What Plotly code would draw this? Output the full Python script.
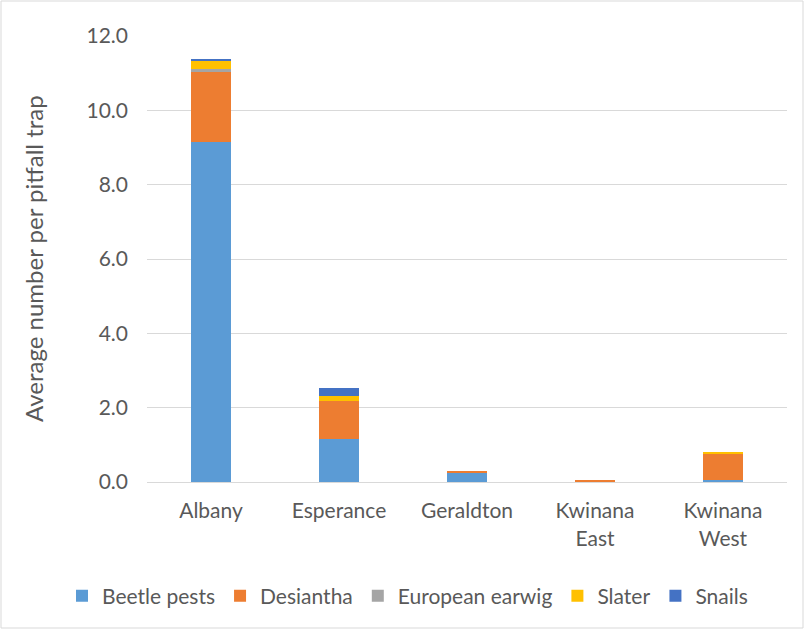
import plotly.graph_objects as go

categories = ["Albany", "Esperance", "Geraldton", "Kwinana<br>East", "Kwinana<br>West"]
beetle_pests = [9.15, 1.16, 0.23, 0.0, 0.05]
desiantha = [1.89, 1.03, 0.06, 0.06, 0.73]
european_earwig = [0.06, 0.0, 0.0, 0.0, 0.0]
slater = [0.23, 0.13, 0.0, 0.0, 0.02]
snails = [0.04, 0.21, 0.0, 0.0, 0.0]

series = [
    ("Beetle pests", beetle_pests, "#5B9BD5"),
    ("Desiantha", desiantha, "#ED7D31"),
    ("European earwig", european_earwig, "#A5A5A5"),
    ("Slater", slater, "#FFC000"),
    ("Snails", snails, "#4472C4"),
]

fig = go.Figure()
for name, vals, color in series:
    fig.add_trace(go.Bar(x=categories, y=vals, name=name, marker=dict(color=color, line=dict(width=0))))

font = "Lato, Open Sans, sans-serif"
fig.update_layout(
    barmode="stack",
    bargap=0.69,
    width=804, height=629,
    margin=dict(l=147, r=17, t=36, b=147, autoexpand=False),
    paper_bgcolor="white", plot_bgcolor="white",
    font=dict(family=font, color="#595959", size=21),
    legend=dict(orientation="h", x=(62 - 147) / 640, xanchor="left", y=-114/446, yanchor="middle",
                font=dict(size=21, color="#595959"), traceorder="normal", bgcolor="rgba(0,0,0,0)",
                itemwidth=30, tracegroupgap=0),
    xaxis=dict(showgrid=False, showline=True, linecolor="#D9D9D9", linewidth=1,
               tickfont=dict(size=21, color="#595959"), ticks="", automargin=False,
               ticklabelstandoff=10),
    yaxis=dict(range=[0, 12], dtick=2, tickformat=".1f", showgrid=True, gridcolor="#D9D9D9",
               gridwidth=1, zeroline=False, showline=False, automargin=False,
               tickfont=dict(size=21, color="#595959"), ticklabelstandoff=18),
)
fig.add_annotation(text="Average number per pitfall trap", xref="paper", yref="paper",
                   x=-114/640, y=0.5, xanchor="center", yanchor="middle", textangle=-90,
                   showarrow=False, font=dict(size=24, color="#595959", family=font))
fig.add_shape(type="rect", xref="paper", yref="paper", x0=-146/640, x1=1+16/640, y0=-146/446, y1=1+35/446,
              line=dict(color="#D9D9D9", width=1))
fig.write_html("out.html")
